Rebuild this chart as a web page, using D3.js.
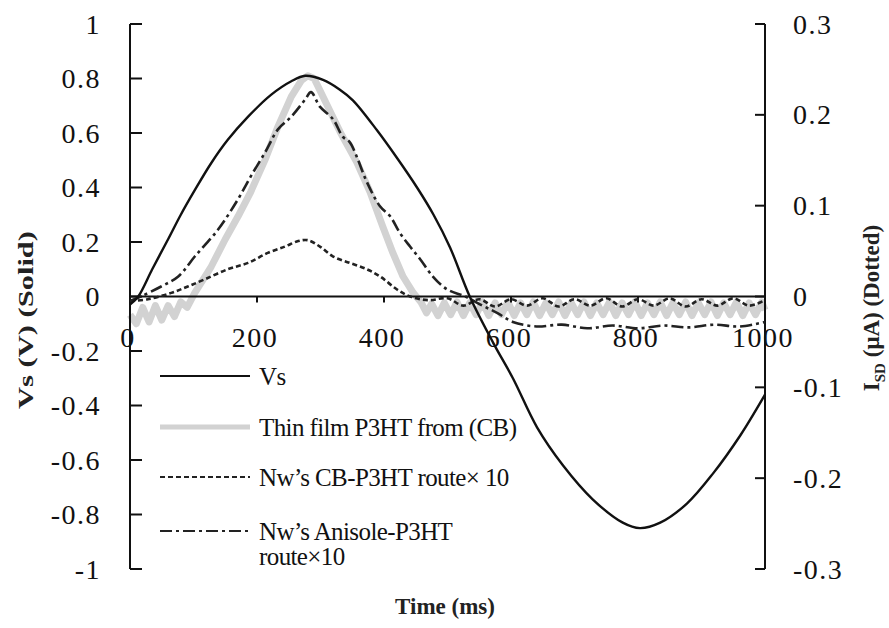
<!DOCTYPE html>
<html>
<head>
<meta charset="utf-8">
<script src="https://cdn.jsdelivr.net/npm/d3@7"></script>
<style>
  body { margin: 0; background: #fff; }
  svg { display: block; font-family: 'Liberation Serif', 'Times New Roman', serif; }
</style>
</head>
<body>
<svg width="889" height="628"></svg>
<script>
// Vs (left axis, V) as [time ms, volts]
const vsData = [
  [0, -0.03], [13, 0], [35, 0.1], [60, 0.21], [80, 0.3], [102, 0.39], [128, 0.49],
  [154, 0.575], [186, 0.66], [222, 0.74], [254, 0.79], [276, 0.81], [304, 0.795],
  [330, 0.76], [351, 0.72], [389, 0.61], [420, 0.51], [452, 0.40], [478, 0.30],
  [504, 0.18], [535, 0], [572, -0.17], [603, -0.30], [641, -0.48], [682, -0.62],
  [729, -0.745], [776, -0.83], [803, -0.85], [835, -0.83], [877, -0.76],
  [918, -0.65], [961, -0.51], [1000, -0.36]
];

// Thin film P3HT from (CB), right axis, uA (noisy band near zero)
const thinFilmData = [
  [0, -0.02], [10, -0.03], [20, -0.012], [30, -0.028], [40, -0.01], [50, -0.026],
  [60, -0.01], [70, -0.022], [80, -0.006], [90, -0.012], [102, 0.004], [128, 0.033],
  [150, 0.063], [170, 0.088], [190, 0.115], [213, 0.151], [233, 0.187], [254, 0.220],
  [270, 0.238], [280, 0.243], [290, 0.240], [304, 0.220], [331, 0.181], [357, 0.148],
  [378, 0.115], [398, 0.077], [414, 0.048], [430, 0.022], [446, 0.004], [458, -0.006],
  [467, -0.018], [475, -0.008], [485, -0.021], [495, -0.007], [505, -0.02], [515, -0.006],
  [525, -0.021], [535, -0.007], [545, -0.02], [555, -0.006], [565, -0.021], [575, -0.007],
  [585, -0.02], [595, -0.006], [605, -0.021], [615, -0.007], [625, -0.02], [635, -0.006],
  [645, -0.021], [655, -0.007], [665, -0.02], [675, -0.006], [685, -0.021], [695, -0.007],
  [705, -0.02], [715, -0.006], [725, -0.021], [735, -0.007], [745, -0.02], [755, -0.006],
  [765, -0.021], [775, -0.007], [785, -0.02], [795, -0.006], [805, -0.021], [815, -0.007],
  [825, -0.02], [835, -0.006], [845, -0.021], [855, -0.007], [865, -0.02], [875, -0.006],
  [885, -0.021], [895, -0.007], [905, -0.02], [915, -0.006], [925, -0.021], [935, -0.007],
  [945, -0.02], [955, -0.006], [965, -0.021], [975, -0.007], [985, -0.02], [995, -0.006],
  [1000, -0.015]
];

// Nw's CB-P3HT route x10, right axis, uA
const cbData = [
  [0, -0.005], [28, -0.003], [65, 0.004], [91, 0.011], [118, 0.019], [154, 0.030],
  [186, 0.037], [217, 0.048], [244, 0.055], [265, 0.061], [280, 0.062], [299, 0.055],
  [320, 0.044], [346, 0.037], [373, 0.030], [394, 0.022], [420, 0.008], [441, 0],
  [470, -0.004], [500, -0.002], [525, -0.01], [550, -0.003], [575, -0.011], [600, -0.003],
  [625, -0.01], [650, -0.002], [675, -0.011], [700, -0.003], [725, -0.01], [750, -0.002],
  [775, -0.011], [800, -0.003], [825, -0.01], [850, -0.002], [875, -0.011], [900, -0.003],
  [925, -0.01], [950, -0.002], [975, -0.01], [1000, -0.004]
];

// Nw's Anisole-P3HT route x10, right axis, uA
const anisoleData = [
  [0, -0.005], [17, 0], [49, 0.011], [76, 0.022], [102, 0.044], [139, 0.074],
  [170, 0.107], [190, 0.132], [213, 0.159], [233, 0.184], [254, 0.198], [276, 0.217],
  [285, 0.225], [299, 0.209], [320, 0.195], [335, 0.176], [346, 0.170], [357, 0.154],
  [373, 0.126], [394, 0.099], [410, 0.088], [425, 0.070], [441, 0.055], [457, 0.041],
  [477, 0.022], [499, 0.008], [528, 0], [555, -0.01], [578, -0.018], [603, -0.028],
  [640, -0.033], [680, -0.031], [720, -0.035], [760, -0.032], [800, -0.035],
  [840, -0.032], [880, -0.034], [920, -0.031], [960, -0.033], [1000, -0.028]
];

const xTicks = [0, 200, 400, 600, 800, 1000];
const yLeftTicks = [1, 0.8, 0.6, 0.4, 0.2, 0, -0.2, -0.4, -0.6, -0.8, -1];
const yRightTicks = [0.3, 0.2, 0.1, 0, -0.1, -0.2, -0.3];

const legendItems = [
  {label: ['Vs'], key: 'vs'},
  {label: ['Thin film P3HT from (CB)'], key: 'thin'},
  {label: ['Nw\u2019s CB-P3HT route\u00d7 10'], key: 'cb'},
  {label: ['Nw\u2019s Anisole-P3HT', 'route\u00d710'], key: 'anisole'}
];

const styles = {
  vs: {stroke: '#111', width: 2.4, dash: null},
  thin: {stroke: '#d2d2d2', width: 7, dash: null},
  cb: {stroke: '#222', width: 2.6, dash: '5,3'},
  anisole: {stroke: '#222', width: 2.6, dash: '12,4,3,4'}
};

const svg = d3.select('svg');
const plot = {left: 130, right: 765, top: 24, bottom: 569};

const x = d3.scaleLinear().domain([0, 1000]).range([plot.left, plot.right]);
const yL = d3.scaleLinear().domain([-1, 1]).range([plot.bottom, plot.top]);
const yR = d3.scaleLinear().domain([-0.3, 0.3]).range([plot.bottom, plot.top]);

const lineL = d3.line().x(d => x(d[0])).y(d => yL(d[1])).curve(d3.curveCatmullRom);
const lineR = d3.line().x(d => x(d[0])).y(d => yR(d[1])).curve(d3.curveCatmullRom);
const lineRaw = d3.line().x(d => x(d[0])).y(d => yR(d[1]));

function drawSeries (data, line, key) {
  const s = styles[key];
  svg.append('path')
    .attr('d', line(data))
    .attr('fill', 'none')
    .attr('stroke', s.stroke)
    .attr('stroke-width', s.width)
    .attr('stroke-linejoin', 'round')
    .attr('stroke-dasharray', s.dash);
}

// gray film underneath everything
drawSeries(thinFilmData, lineRaw, 'thin');

// Axes
const axes = svg.append('g').attr('stroke', '#111').attr('stroke-width', 2);
axes.append('line').attr('x1', plot.left).attr('x2', plot.left).attr('y1', plot.top).attr('y2', plot.bottom);
axes.append('line').attr('x1', plot.right).attr('x2', plot.right).attr('y1', plot.top).attr('y2', plot.bottom);
axes.append('line').attr('x1', plot.left).attr('x2', plot.right).attr('y1', yL(0)).attr('y2', yL(0));

axes.selectAll('.tl').data(yLeftTicks).enter().append('line')
  .attr('x1', plot.left).attr('x2', plot.left + 12)
  .attr('y1', d => yL(d)).attr('y2', d => yL(d));
axes.selectAll('.tr').data(yRightTicks).enter().append('line')
  .attr('x1', plot.right).attr('x2', plot.right - 10)
  .attr('y1', d => yR(d)).attr('y2', d => yR(d));
axes.selectAll('.tx').data(xTicks).enter().append('line')
  .attr('x1', d => x(d)).attr('x2', d => x(d))
  .attr('y1', yL(0)).attr('y2', yL(0) + 6);

const tickFont = g => g.attr('font-size', 28).attr('letter-spacing', 1.5).attr('fill', '#111');

svg.append('g').call(tickFont).selectAll('text').data(yLeftTicks).enter().append('text')
  .attr('x', 101).attr('y', d => yL(d)).attr('dy', '0.34em')
  .attr('text-anchor', 'end')
  .text(d => String(d));

svg.append('g').call(tickFont).selectAll('text').data(yRightTicks).enter().append('text')
  .attr('x', 793).attr('y', d => yR(d)).attr('dy', '0.34em')
  .text(d => String(d));

svg.append('g').call(tickFont).selectAll('text').data(xTicks).enter().append('text')
  .attr('x', d => x(d) - 2).attr('y', 347)
  .attr('text-anchor', 'middle')
  .text(d => d);

// Current curves and the voltage on top
drawSeries(cbData, lineR, 'cb');
drawSeries(anisoleData, lineR, 'anisole');
drawSeries(vsData, lineL, 'vs');

// Axis titles
svg.append('text')
  .attr('transform', `translate(25,${(230 + 410) / 2}) rotate(-90)`)
  .attr('text-anchor', 'middle').attr('dy', '0.35em')
  .attr('font-size', 22).attr('font-weight', 'bold').attr('fill', '#222')
  .attr('textLength', 178).attr('lengthAdjust', 'spacingAndGlyphs')
  .text('Vs (V)  (Solid)');

const rt = svg.append('text')
  .attr('transform', `translate(871,308) rotate(-90)`)
  .attr('text-anchor', 'middle').attr('dy', '0.35em')
  .attr('font-size', 23).attr('font-weight', 'bold').attr('fill', '#222');
rt.append('tspan').text('I');
rt.append('tspan').attr('font-size', 15).attr('dy', 6).text('SD');
rt.append('tspan').attr('dy', -6).text(' (\u03bcA) (Dotted)');

svg.append('text')
  .attr('x', 445).attr('y', 614)
  .attr('text-anchor', 'middle')
  .attr('font-size', 23).attr('font-weight', 'bold').attr('fill', '#222')
  .text('Time (ms)');

// Legend
const rowY = [376, 427, 477, 531];
const legend = svg.append('g');
legendItems.forEach((item, i) => {
  const s = styles[item.key];
  legend.append('line')
    .attr('x1', 160).attr('x2', 250)
    .attr('y1', rowY[i]).attr('y2', rowY[i])
    .attr('stroke', s.stroke)
    .attr('stroke-width', item.key === 'thin' ? 5 : 2)
    .attr('stroke-dasharray', s.dash);
  item.label.forEach((t, j) => {
    legend.append('text')
      .attr('x', 259).attr('y', rowY[i] + j * 25).attr('dy', '0.35em')
      .attr('font-size', 25).attr('fill', '#111')
      .attr('letter-spacing', -0.6)
      .text(t);
  });
});
</script>
</body>
</html>
